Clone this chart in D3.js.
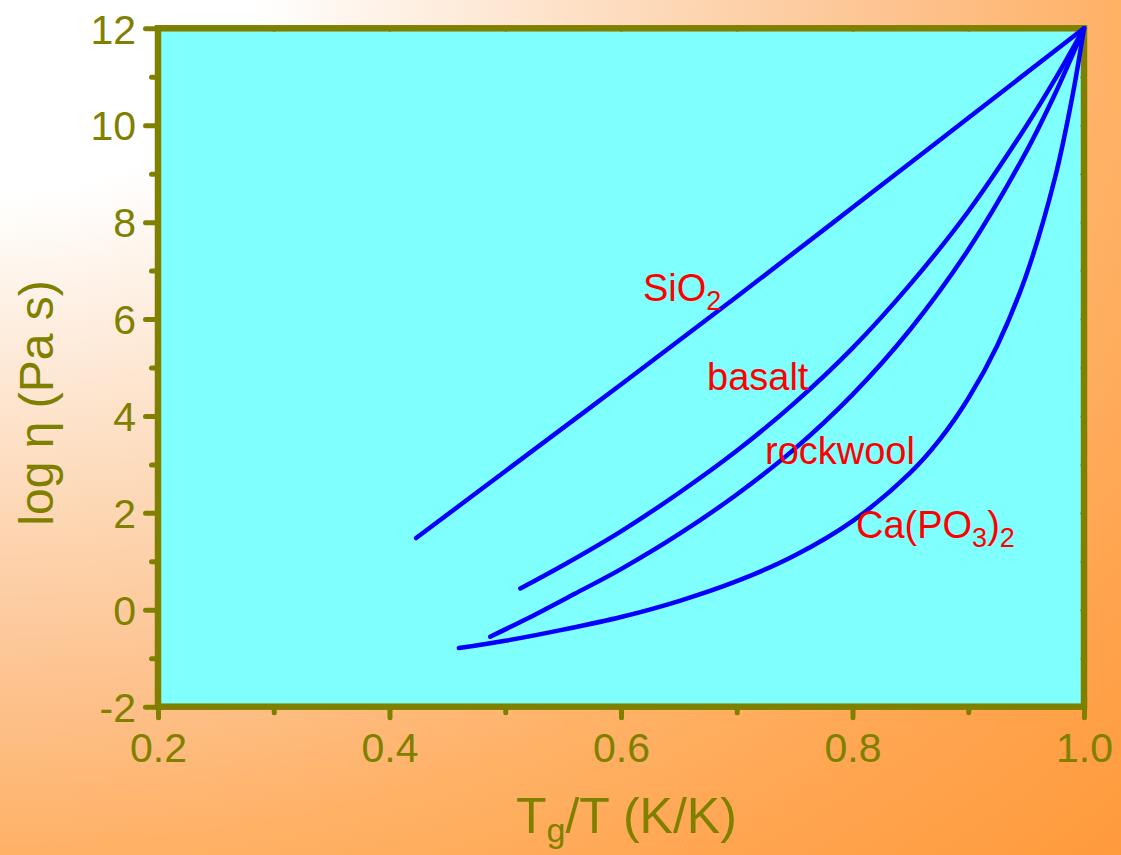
<!DOCTYPE html>
<html>
<head>
<meta charset="utf-8">
<script src="https://cdn.jsdelivr.net/npm/d3@7"></script>
<style>
  html, body { margin: 0; padding: 0; overflow: hidden; background: #fff; }
  svg { display: block; }
</style>
</head>
<body>
<svg id="chart" width="1121" height="855"></svg>
<script>
// Viscosity curves: log η versus reduced inverse temperature Tg/T

// Axis ticks
const xMajorTicks = [0.2, 0.4, 0.6, 0.8, 1.0];
const xTickLabels = ["0.2", "0.4", "0.6", "0.8", "1.0"];
const xMinorTicks = [0.3, 0.5, 0.7, 0.9];
const yMajorTicks = [-2, 0, 2, 4, 6, 8, 10, 12];
const yTickLabels = ["-2", "0", "2", "4", "6", "8", "10", "12"];
const yMinorTicks = [-1, 1, 3, 5, 7, 9, 11];

// Series: Tg/T and log η (Pa s)
const tgSiO2     = [0.423, 0.5, 0.6, 0.7, 0.8, 0.9, 1.0];
const etaSiO2    = [1.48, 2.86, 4.65, 6.46, 8.30, 10.15, 12.0];

const tgBasalt   = [0.513, 0.55, 0.6, 0.65, 0.7, 0.75, 0.8, 0.85, 0.9, 0.95, 0.975, 1.0];
const etaBasalt  = [0.44, 0.92, 1.62, 2.41, 3.28, 4.27, 5.40, 6.72, 8.22, 9.98, 10.95, 12.0];

const tgRockwool  = [0.487, 0.52, 0.56, 0.6, 0.65, 0.7, 0.75, 0.8, 0.85, 0.9, 0.95, 0.975, 1.0];
const etaRockwool = [-0.555, -0.17, 0.33, 0.84, 1.56, 2.38, 3.32, 4.44, 5.79, 7.43, 9.45, 10.65, 12.0];

const tgCaPO3    = [0.46, 0.5, 0.55, 0.6, 0.65, 0.7, 0.75, 0.8, 0.85, 0.875, 0.9, 0.925, 0.95, 0.975, 0.99, 1.0];
const etaCaPO3   = [-0.79, -0.64, -0.41, -0.15, 0.18, 0.59, 1.12, 1.83, 2.83, 3.50, 4.36, 5.45, 6.90, 8.92, 10.6, 12.0];

const seriesNames = ["SiO2", "basalt", "rockwool", "Ca(PO3)2"];
// label anchors in data units (Tg/T, log η)
const labelTg  = [0.619, 0.6743, 0.7244, 0.803];
const labelEta = [6.37, 4.54, 3.01, 1.48];

const series = [
  { name: seriesNames[0], tg: tgSiO2, eta: etaSiO2 },
  { name: seriesNames[1], tg: tgBasalt, eta: etaBasalt },
  { name: seriesNames[2], tg: tgRockwool, eta: etaRockwool },
  { name: seriesNames[3], tg: tgCaPO3, eta: etaCaPO3 }
];

const W = 1121, H = 855;
const plot = { left: 158, right: 1084, top: 28.3, bottom: 706.7 };
const olive = "#808000";
const fontFam = "'Liberation Sans', Arial, Helvetica, sans-serif";

const svg = d3.select("#chart");

// page background: soft white-to-orange glow from the top-left corner
const defs = svg.append("defs");
const grad = defs.append("radialGradient")
  .attr("id", "bgGlow")
  .attr("gradientUnits", "objectBoundingBox")
  .attr("cx", 0).attr("cy", 0).attr("fx", 0).attr("fy", 0).attr("r", 1.414);
[[0, "#FFFFFF"], [0.16, "#FFFFFF"], [0.27, "#FEEEE0"], [0.42, "#FDD8B6"],
 [0.57, "#FDC28E"], [0.70, "#FFB267"], [0.85, "#FFA44E"], [1, "#FF9A3C"]]
  .forEach(([o, c]) => grad.append("stop").attr("offset", o).attr("stop-color", c));
svg.append("rect").attr("width", W).attr("height", H).attr("fill", "url(#bgGlow)");

const x = d3.scaleLinear().domain([0.2, 1.0]).range([plot.left, plot.right]);
const y = d3.scaleLinear().domain([-2, 12]).range([plot.bottom, plot.top]);

// plot panel
svg.append("rect")
  .attr("x", plot.left).attr("y", plot.top)
  .attr("width", plot.right - plot.left).attr("height", plot.bottom - plot.top)
  .attr("fill", "#80FFFF");

function styleTicks(g, width) {
  g.select(".domain").remove();
  g.selectAll(".tick line").attr("stroke", olive).attr("stroke-width", width).attr("stroke-linecap", "round");
}

// bottom axis: major + minor ticks
const gxMinor = svg.append("g").attr("transform", `translate(0,${plot.bottom})`)
  .call(d3.axisBottom(x).tickValues(xMinorTicks).tickSize(6).tickFormat(""));
styleTicks(gxMinor, 5);
const gx = svg.append("g").attr("transform", `translate(0,${plot.bottom})`)
  .call(d3.axisBottom(x).tickValues(xMajorTicks).tickSize(11).tickFormat((d, i) => xTickLabels[i]));
styleTicks(gx, 5);
gx.selectAll(".tick text")
  .attr("y", 55.3).attr("dy", null)
  .attr("fill", olive).attr("font-family", fontFam).attr("font-size", 41);

// left axis
const gyMinor = svg.append("g").attr("transform", `translate(${plot.left},0)`)
  .call(d3.axisLeft(y).tickValues(yMinorTicks).tickSize(6.5).tickFormat(""));
styleTicks(gyMinor, 5);
const gy = svg.append("g").attr("transform", `translate(${plot.left},0)`)
  .call(d3.axisLeft(y).tickValues(yMajorTicks).tickSize(12.5).tickFormat((d, i) => yTickLabels[i]));
styleTicks(gy, 5);
gy.selectAll(".tick text")
  .attr("x", -22).attr("dy", "0.36em")
  .attr("fill", olive).attr("font-family", fontFam).attr("font-size", 41);

// small inward ticks on top and right
const allX = xMajorTicks.concat(xMinorTicks);
const allY = yMajorTicks.concat(yMinorTicks);
const gTop = svg.append("g").attr("transform", `translate(0,${plot.top})`)
  .call(d3.axisBottom(x).tickValues(allX).tickSize(1.5).tickFormat(""));
styleTicks(gTop, 4);
const gRight = svg.append("g").attr("transform", `translate(${plot.right},0)`)
  .call(d3.axisLeft(y).tickValues(allY).tickSize(1.5).tickFormat(""));
styleTicks(gRight, 4);

// frame
svg.append("rect")
  .attr("x", plot.left).attr("y", plot.top)
  .attr("width", plot.right - plot.left).attr("height", plot.bottom - plot.top)
  .attr("fill", "none").attr("stroke", olive).attr("stroke-width", 6.5);

// curves
const line = d3.line()
  .x(d => x(d[0]))
  .y(d => y(d[1]))
  .curve(d3.curveCatmullRom.alpha(0.5));

svg.append("g").selectAll("path")
  .data(series)
  .join("path")
  .attr("d", s => line(s.tg.map((t, i) => [t, s.eta[i]])))
  .attr("fill", "none")
  .attr("stroke", "#0000FF")
  .attr("stroke-width", 4.5)
  .attr("stroke-linecap", "round")
  .attr("stroke-linejoin", "round");

// series labels with chemical subscripts
function chemLabel(g, str, size, subSize, shift) {
  const parts = str.split(/(\d)/).filter(p => p.length);
  let sub = false;
  parts.forEach(p => {
    const isDigit = /^\d$/.test(p);
    const ts = g.append("tspan").text(p);
    if (isDigit && !sub) { ts.attr("dy", shift).attr("font-size", subSize); sub = true; }
    else if (isDigit && sub) { ts.attr("font-size", subSize); }
    else if (!isDigit && sub) { ts.attr("dy", -shift).attr("font-size", size); sub = false; }
    else { ts.attr("font-size", size); }
  });
}

series.forEach((s, i) => {
  const t = svg.append("text")
    .attr("x", x(labelTg[i])).attr("y", y(labelEta[i]))
    .attr("fill", "#FF0000")
    .attr("font-family", fontFam)
    .attr("font-size", 38);
  chemLabel(t, s.name, 38, 27, 9);
});

// axis titles
const xTitle = svg.append("text")
  .attr("x", 516).attr("y", 833)
  .attr("fill", olive).attr("font-family", fontFam).attr("font-size", 50);
xTitle.append("tspan").text("T");
xTitle.append("tspan").text("g").attr("font-size", 34).attr("dy", 9);
xTitle.append("tspan").text("/T (K/K)").attr("dy", -9);

svg.append("text")
  .attr("transform", "translate(53,403) rotate(-90)")
  .attr("text-anchor", "middle")
  .attr("fill", olive).attr("font-family", fontFam).attr("font-size", 48)
  .text("log η (Pa s)");
</script>
</body>
</html>
